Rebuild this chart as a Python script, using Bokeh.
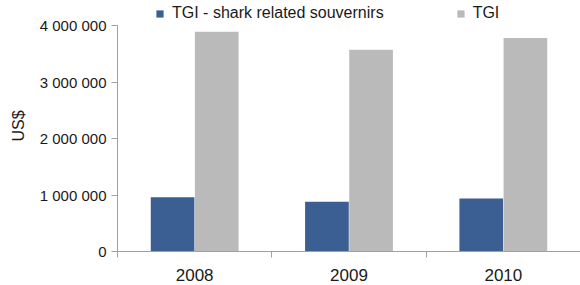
import numpy as np
from bokeh.plotting import figure
from bokeh.models import ColumnDataSource, Legend, LegendItem, FixedTicker, Range1d
from bokeh.transform import dodge
from bokeh.embed import file_html
from bokeh.resources import INLINE

years = ["2008", "2009", "2010"]
tgi_shark = [960000, 880000, 940000]
tgi_total = [3890000, 3570000, 3780000]
y_ticks = [0, 1000000, 2000000, 3000000, 4000000]
y_tick_labels = ["0", "1 000 000", "2 000 000", "3 000 000", "4 000 000"]

FONT = "Liberation Sans"
BLUE = "#3b5f93"
GRAY = "#bababa"
AXIS = "#a0a0a0"
TEXT = "#1a1a1a"

# frame spans page y 0..251; the axis (0..4M) occupies 25..251, leaving headroom for the legend
FRAME_H = 251
AXIS_H = 226
y_end = y_ticks[-1] * FRAME_H / AXIS_H

xpos = np.arange(len(years)) + 0.5
src = ColumnDataSource(dict(x=xpos, shark=tgi_shark, total=tgi_total))

p = figure(width=580, height=285, output_backend="svg", toolbar_location=None,
           x_range=Range1d(0, len(years)), y_range=Range1d(0, y_end),
           min_border_left=117, min_border_right=0, min_border_top=0,
           min_border_bottom=34)
p.outline_line_color = None
p.xgrid.visible = False
p.ygrid.visible = False

r1 = p.vbar(x=dodge("x", -0.143, range=p.x_range), top="shark", width=0.283,
            source=src, fill_color=BLUE, line_color=None)
r2 = p.vbar(x=dodge("x", 0.143, range=p.x_range), top="total", width=0.283,
            source=src, fill_color=GRAY, line_color=None)

# x axis
p.xaxis.ticker = FixedTicker(ticks=list(xpos), minor_ticks=list(range(len(years) + 1)))
p.xaxis.major_label_overrides = {float(x): y for x, y in zip(xpos, years)}
p.xaxis.major_tick_line_color = None
p.xaxis.major_tick_out = 0
p.xaxis.major_tick_in = 0
p.xaxis.minor_tick_line_color = AXIS
p.xaxis.minor_tick_out = 6
p.xaxis.minor_tick_in = 0
p.xaxis.axis_line_color = AXIS
p.xaxis.major_label_text_font = FONT
p.xaxis.major_label_text_font_size = "17px"
p.xaxis.major_label_text_color = TEXT
p.xaxis.major_label_standoff = 11

# y axis
p.yaxis.ticker = FixedTicker(ticks=y_ticks, minor_ticks=[])
p.yaxis.bounds = (y_ticks[0], y_ticks[-1])
p.yaxis.major_label_overrides = {t: l for t, l in zip(y_ticks, y_tick_labels)}
p.yaxis.axis_line_color = AXIS
p.yaxis.major_tick_line_color = AXIS
p.yaxis.major_tick_out = 6
p.yaxis.major_tick_in = 0
p.yaxis.minor_tick_line_color = None
p.yaxis.major_label_text_font = FONT
p.yaxis.major_label_text_font_size = "15px"
p.yaxis.major_label_text_color = TEXT
p.yaxis.major_label_standoff = 5
p.yaxis.axis_label = "US$"
p.yaxis.axis_label_text_font = FONT
p.yaxis.axis_label_text_font_size = "16px"
p.yaxis.axis_label_text_font_style = "normal"
p.yaxis.axis_label_text_color = TEXT
p.yaxis.axis_label_standoff = 10

legend = Legend(items=[LegendItem(label="TGI - shark related souvernirs", renderers=[r1]),
                       LegendItem(label="TGI", renderers=[r2])],
                location=(38, 229), orientation="horizontal",
                glyph_width=9, glyph_height=9, label_standoff=8, spacing=72,
                padding=0, margin=0, border_line_color=None,
                background_fill_alpha=0,
                label_text_font=FONT, label_text_font_size="16px",
                label_text_color=TEXT)
p.add_layout(legend, "center")

open("out.html", "w").write(file_html(p, INLINE))
